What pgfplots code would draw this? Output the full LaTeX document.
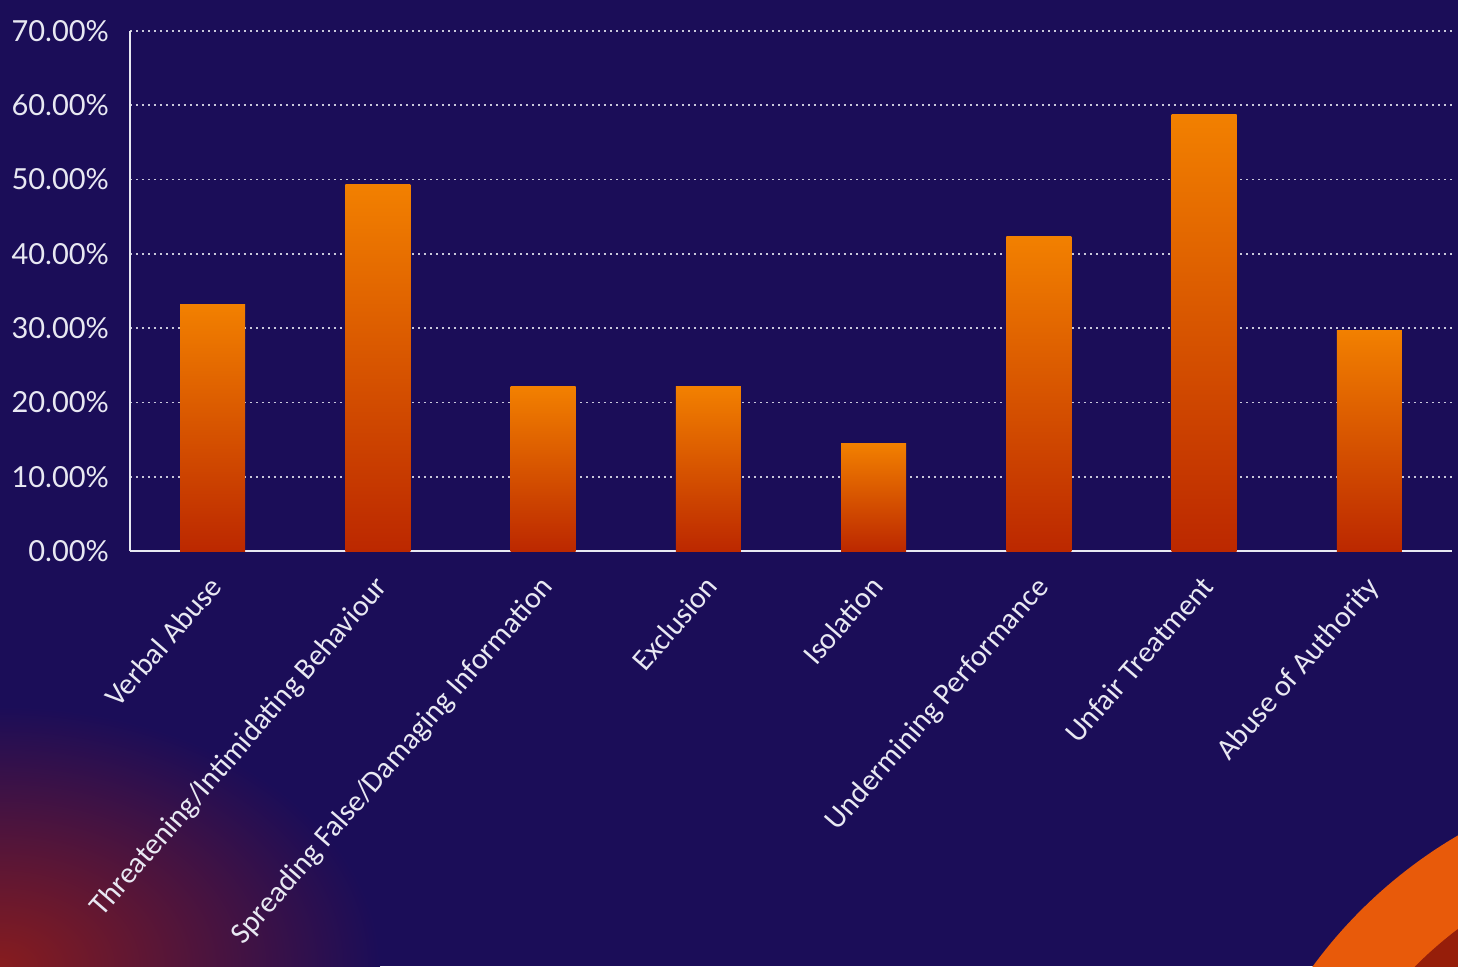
\documentclass[border=0pt]{standalone}
\usepackage{fontspec}
\setmainfont{Carlito}
\newfontfamily\lato{Lato}
\usepackage{pgfplots}
\pgfplotsset{compat=1.18}
\definecolor{bg}{RGB}{27,13,88}
\definecolor{txt}{RGB}{232,232,242}
\definecolor{bartop}{RGB}{242,128,0}
\definecolor{barmid}{RGB}{236,110,0}
\definecolor{barbot}{RGB}{188,40,0}
\definecolor{arcor}{RGB}{232,90,10}
\definecolor{arcred}{RGB}{150,30,10}
\definecolor{glow}{RGB}{135,28,30}
\begin{document}
\begin{tikzpicture}
\fill[bg] (0,0) rectangle (729pt,483pt);
\useasboundingbox (0,0) rectangle (729pt,483pt);
\begin{scope}
\clip (0,0) rectangle (729pt,483pt);
\shade[inner color=glow, outer color=bg] (0,0) ellipse (190pt and 130pt);
\fill[arcor] (850pt,-142pt) circle (240pt);
\fill[arcred] (850pt,-142pt) circle (201pt);
\end{scope}
\begin{axis}[
  at={(65pt,207.5pt)}, anchor=south west,
  scale only axis, width=661pt, height=260pt,
  xmin=-0.5, xmax=7.5, ymin=0, ymax=70,
  ybar, bar width=32.5pt, bar shift=0pt,
  axis lines*=left,
  axis line style={draw=txt, line width=1.1pt},
  ymajorgrids,
  grid style={dash pattern=on 0.9pt off 2.1pt, draw=txt!85!bg, line width=0.9pt},
  major tick length=0pt,
  xtick={0,...,7},
  xticklabels={Verbal Abuse, Threatening/Intimidating Behaviour, Spreading False/Damaging Information, Exclusion, Isolation, Undermining Performance, Unfair Treatment, Abuse of Authority},
  xticklabel style={font=\fontsize{15}{17}\selectfont, text=txt, anchor=north east, rotate=49, xshift=-6.8pt, yshift=-2.3pt},
  ytick={0,10,...,70},
  yticklabel={\pgfmathprintnumber[fixed,fixed zerofill,precision=2]{\tick}\%},
  yticklabel style={font=\lato\fontsize{14.5}{16}\selectfont, text=txt, xshift=-7pt},
  /pgf/number format/assume math mode=true,
  every axis plot/.append style={draw=none, top color=bartop, middle color=barmid, bottom color=barbot},
]
\addplot coordinates {(0,33.2)};
\addplot coordinates {(1,49.3)};
\addplot coordinates {(2,22.1)};
\addplot coordinates {(3,22.1)};
\addplot coordinates {(4,14.5)};
\addplot coordinates {(5,42.3)};
\addplot coordinates {(6,58.7)};
\addplot coordinates {(7,29.7)};
\end{axis}
\end{tikzpicture}
\end{document}
